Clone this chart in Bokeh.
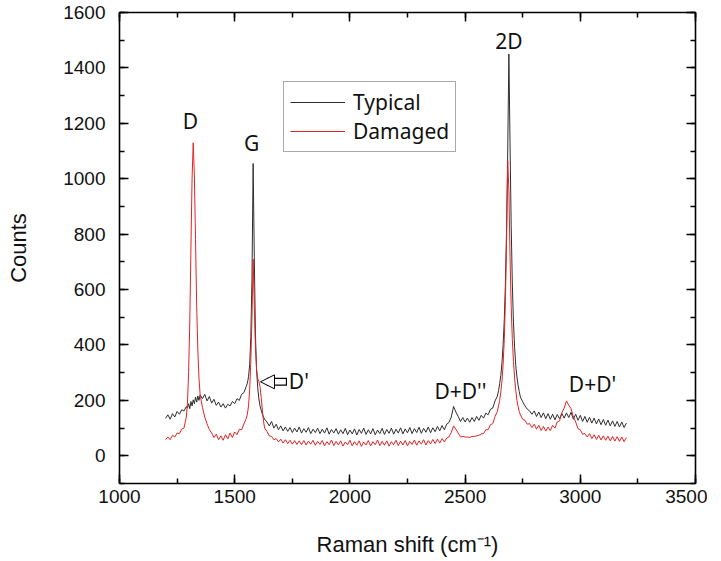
from bokeh.plotting import figure
from bokeh.models import (Range1d, SingleIntervalTicker, LinearAxis, Legend, LegendItem,
                          Label, Arrow, NormalHead)
from bokeh.embed import file_html
from bokeh.resources import INLINE

# ---------------- data ----------------
raman_shift = [
    1200, 1210, 1220, 1230, 1240, 1250, 1260, 1270, 1280, 1290,
    1295, 1300, 1305, 1310, 1315, 1320, 1325, 1330, 1335, 1340, 1345, 1350,
    1360, 1370, 1380, 1390, 1400, 1410, 1420, 1430, 1440, 1450,
    1460, 1470, 1480, 1490, 1500, 1510, 1520, 1530, 1540, 1550,
    1555, 1560, 1565, 1570, 1575, 1580, 1585, 1590, 1595, 1600, 1605, 1610, 1615, 1620, 1625, 1630,
    1640, 1650, 1660, 1670, 1680, 1690, 1700, 1710, 1720, 1730,
    1740, 1750, 1760, 1770, 1780, 1790, 1800, 1810, 1820, 1830,
    1840, 1850, 1860, 1870, 1880, 1890, 1900, 1910, 1920, 1930,
    1940, 1950, 1960, 1970, 1980, 1990, 2000, 2010, 2020, 2030,
    2040, 2050, 2060, 2070, 2080, 2090, 2100, 2110, 2120, 2130,
    2140, 2150, 2160, 2170, 2180, 2190, 2200, 2210, 2220, 2230,
    2240, 2250, 2260, 2270, 2280, 2290, 2300, 2310, 2320, 2330,
    2340, 2350, 2360, 2370, 2380, 2390, 2400, 2410, 2420, 2430,
    2440, 2450, 2460, 2470, 2480, 2490, 2500, 2510, 2520, 2530,
    2540, 2550, 2560, 2570, 2580, 2590, 2600, 2610, 2620, 2630,
    2640,
    2645, 2650, 2655, 2660, 2665, 2670, 2675, 2680, 2685, 2690,
    2695, 2700, 2705, 2710, 2715, 2720, 2725, 2730, 2735,
    2740, 2750, 2760, 2770, 2780, 2790, 2800, 2810, 2820, 2830,
    2840, 2850, 2860, 2870, 2880, 2890, 2900, 2910, 2920, 2930,
    2940, 2950, 2960, 2970, 2980, 2990, 3000, 3010, 3020, 3030,
    3040, 3050, 3060, 3070, 3080, 3090, 3100, 3110, 3120, 3130,
    3140, 3150, 3160, 3170, 3180, 3190, 3200,
]

typical_counts = [
    135, 148, 132, 152, 140, 160, 150, 166, 162, 178,
    172, 188, 170, 196, 180, 202, 188, 212, 194, 216, 200, 220,
    206, 222, 198, 214, 190, 204, 182, 194, 176, 188,
    172, 186, 180, 196, 188, 206, 200, 222, 228, 250,
    262, 285, 330, 430, 640, 1055, 720, 440, 310, 245, 205, 180, 165, 150, 140, 132,
    122, 108, 124, 100, 114, 94, 108, 90, 104, 88,
    102, 84, 100, 86, 104, 82, 98, 85, 102, 80,
    96, 84, 100, 80, 96, 82, 101, 78, 95, 82,
    98, 78, 94, 80, 99, 76, 93, 79, 97, 75,
    95, 81, 100, 77, 94, 79, 98, 76, 93, 80,
    99, 77, 95, 81, 100, 78, 96, 82, 101, 79,
    97, 83, 102, 80, 98, 84, 103, 81, 99, 85,
    104, 83, 101, 87, 106, 90, 109, 94, 114, 120,
    140, 178, 158, 142, 124, 138, 122, 136, 121, 138,
    124, 142, 128, 146, 136, 154, 148, 168, 172, 198,
    215,
    235, 260, 290, 335, 400, 490, 620, 820, 1100, 1450,
    1130, 830, 620, 480, 390, 325, 285, 255, 232,
    212, 195, 180, 168, 162, 150, 162, 142, 158, 138,
    155, 134, 152, 132, 150, 130, 149, 134, 153, 136,
    155, 138, 157, 132, 150, 128, 146, 124, 142, 121,
    139, 118, 136, 115, 133, 112, 131, 110, 129, 108,
    126, 106, 124, 104, 122, 102, 118,
]

damaged_counts = [
    58, 68, 58, 74, 68, 82, 80, 96, 100, 140,
    190, 300, 480, 750, 1000, 1130, 1010, 780, 540, 380, 280, 220,
    175, 140, 115, 95, 82, 66, 78, 58, 72, 56,
    76, 61, 82, 66, 86, 76, 96, 94, 115, 135,
    150, 180, 240, 340, 500, 710, 540, 390, 310, 278, 268, 250, 210, 165, 125, 100,
    88, 72, 70, 58, 62, 50, 60, 46, 58, 44,
    56, 42, 55, 41, 54, 40, 55, 39, 53, 42,
    56, 38, 52, 41, 55, 36, 51, 40, 57, 37,
    52, 39, 54, 35, 50, 40, 56, 36, 51, 38,
    54, 34, 50, 39, 55, 36, 51, 40, 57, 37,
    52, 38, 54, 35, 51, 40, 56, 37, 53, 39,
    55, 36, 52, 41, 57, 38, 54, 42, 58, 39,
    55, 43, 59, 44, 60, 46, 62, 50, 64, 68,
    84, 108, 96, 82, 68, 70, 68, 68, 66, 70,
    70, 72, 74, 79, 80, 94, 94, 112, 116, 142,
    160,
    180, 200, 230, 270, 330, 420, 560, 780, 1065, 960,
    720, 540, 420, 340, 280, 235, 200, 178, 160,
    148, 132, 128, 114, 116, 102, 114, 96, 110, 91,
    106, 89, 104, 91, 110, 100, 122, 126, 156, 172,
    198, 182, 170, 140, 122, 98, 94, 78, 80, 68,
    80, 62, 76, 59, 74, 57, 72, 56, 71, 54,
    70, 53, 69, 52, 68, 51, 66,
]

series_names = ["Typical", "Damaged"]
peak_labels = ["D", "G", "2D", "D'", "D+D''", "D+D'"]
peak_label_x = [1308, 1573, 2690, 1735, 2480, 3053]
peak_label_y = [1209, 1130, 1496, 271, 235, 260]

# ---------------- figure ----------------
FONT_AX = "Liberation Sans"
FONT_TXT = "Noto Sans"

p = figure(frame_width=576, frame_height=471,
           x_range=Range1d(1000, 3500), y_range=Range1d(-100, 1600),
           output_backend="svg", toolbar_location=None,
           min_border_left=119, min_border_right=12,
           min_border_top=12, min_border_bottom=60,
           background_fill_color="white", border_fill_color="white")
p.outline_line_color = None
p.xgrid.visible = False
p.ygrid.visible = False

p.xaxis.ticker = SingleIntervalTicker(interval=500, num_minor_ticks=2)
p.yaxis.ticker = SingleIntervalTicker(interval=200, num_minor_ticks=2)

def style_axis(ax):
    ax.axis_line_width = 1.6
    ax.axis_line_color = "black"
    ax.major_tick_in = 9
    ax.major_tick_out = 0
    ax.minor_tick_in = 5
    ax.minor_tick_out = 0
    ax.major_tick_line_width = 1.5
    ax.minor_tick_line_width = 1.5
    ax.major_tick_line_color = "black"
    ax.minor_tick_line_color = "black"
    ax.major_label_text_font = FONT_AX
    ax.major_label_text_font_size = "19px"
    ax.major_label_text_color = "#111111"
    ax.axis_label_text_font = FONT_AX
    ax.axis_label_text_font_size = "22px"
    ax.axis_label_text_font_style = "normal"
    ax.axis_label_text_color = "#111111"

for ax in (p.xaxis[0], p.yaxis[0]):
    style_axis(ax)

p.xaxis.axis_label = "Raman shift (cm\u207b\u00b9)"
p.yaxis.axis_label = "Counts"
p.xaxis.major_label_standoff = 6
p.xaxis.axis_label_standoff = 26
p.yaxis.major_label_standoff = 14
p.yaxis.axis_label_standoff = 29

# mirrored frame axes (ticks only)
top_ax = LinearAxis(ticker=SingleIntervalTicker(interval=500, num_minor_ticks=2))
right_ax = LinearAxis(ticker=SingleIntervalTicker(interval=200, num_minor_ticks=2))
for ax in (top_ax, right_ax):
    style_axis(ax)
    ax.major_label_text_font_size = "0px"
    ax.major_label_text_color = None
    ax.major_label_standoff = 0
p.add_layout(top_ax, "above")
p.add_layout(right_ax, "right")

r_typ = p.line(raman_shift, typical_counts, line_color="#2e2e2e", line_width=1)
r_dam = p.line(raman_shift, damaged_counts, line_color="#e02424", line_width=1)

legend = Legend(items=[LegendItem(label=series_names[0], renderers=[r_typ]),
                       LegendItem(label=series_names[1], renderers=[r_dam])],
                location=(164, 331))
legend.label_text_font = FONT_TXT
legend.label_text_font_size = "21px"
legend.label_text_color = "#111111"
legend.border_line_color = "#555555"
legend.border_line_width = 1
legend.background_fill_color = "white"
legend.background_fill_alpha = 1
legend.glyph_width = 55
legend.glyph_height = 20
legend.label_height = 20
legend.label_standoff = 8
legend.padding = 6
legend.spacing = 1
legend.margin = 0
p.add_layout(legend)

for t, lx, ly in zip(peak_labels, peak_label_x, peak_label_y):
    align = "left" if t == "D'" else "center"
    p.add_layout(Label(x=lx, y=ly, text=t, text_align=align, text_baseline="middle",
                       text_font=FONT_TXT, text_font_size="21px", text_color="#111111"))

# hollow block arrow pointing to the D' shoulder
arrow_y = 267
p.add_layout(Arrow(x_start=1727, y_start=arrow_y, x_end=1640, y_end=arrow_y,
                   line_color="black", line_width=8, line_cap="butt", end=None))
p.add_layout(Arrow(x_start=1722, y_start=arrow_y, x_end=1640, y_end=arrow_y,
                   line_color="white", line_width=5.5, line_cap="butt", end=None))
p.add_layout(Arrow(x_start=1660, y_start=arrow_y, x_end=1612, y_end=arrow_y,
                   line_alpha=0, line_width=1,
                   end=NormalHead(size=14, fill_color="white", line_color="black",
                                  line_width=1)))

open("out.html", "w").write(file_html(p, INLINE))
